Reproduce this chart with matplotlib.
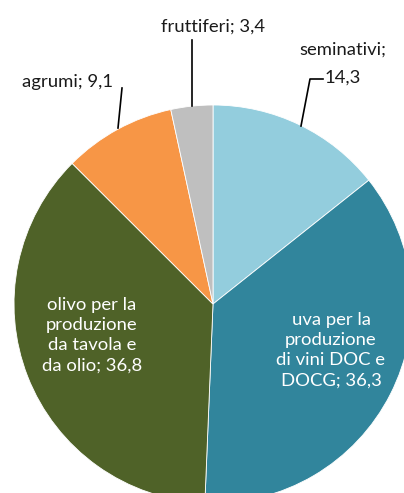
import matplotlib.pyplot as plt

# quota della superficie (%)
categorie = ['seminativi', 'uva per la\nproduzione\ndi vini DOC e\nDOCG', 'olivo per la\nproduzione\nda tavola e\nda olio', 'agrumi', 'fruttiferi']
valori = [14.3, 36.3, 36.8, 9.1, 3.4]
colori = ['#93CDDD', '#31859C', '#4F6228', '#F79646', '#BFBFBF']

W, H = 404, 493
fig = plt.figure(figsize=(W / 100, H / 100), dpi=100)
ax = fig.add_axes([0, 0, 1, 1])

ax.pie(valori, colors=colori, startangle=90, counterclock=False,
       center=(213, H - 304), radius=199,
       wedgeprops=dict(linewidth=0.6, edgecolor='white'))
ax.set_autoscale_on(False)
ax.set_xlim(0, W)
ax.set_ylim(0, H)
ax.set_aspect('equal')
ax.axis('off')


def fmt(v):
    return str(v).replace('.', ',')


font = dict(family='Lato', fontsize=13.3)

def px(x, y):
    return x, H - y

# etichette esterne con linee guida
ax.text(*px(213, 27), 'fruttiferi; ' + fmt(valori[4]), ha='center', va='center', color='#1a1a1a', **font)
ax.plot(*zip(px(192, 40), px(192, 106)), color='black', lw=1.2)

ax.text(*px(343, 50), 'seminativi;', ha='center', va='center', color='#1a1a1a', **font)
ax.text(*px(343, 78), fmt(valori[0]), ha='center', va='center', color='#1a1a1a', **font)
ax.plot(*zip(px(323, 79), px(310, 79), px(301, 126)), color='black', lw=1.2)

ax.text(*px(68, 82), 'agrumi; ' + fmt(valori[3]), ha='center', va='center', color='#1a1a1a', **font)
ax.plot(*zip(px(122, 88), px(118, 128)), color='black', lw=1.2)

# etichette interne
ax.text(*px(92, 335), categorie[2] + '; ' + fmt(valori[2]), ha='center', va='center',
        multialignment='center', color='white', linespacing=1.32, **font)
ax.text(*px(331, 350), categorie[1] + '; ' + fmt(valori[1]), ha='center', va='center',
        multialignment='center', color='white', linespacing=1.32, **font)

fig.savefig('out.png', dpi=100)
